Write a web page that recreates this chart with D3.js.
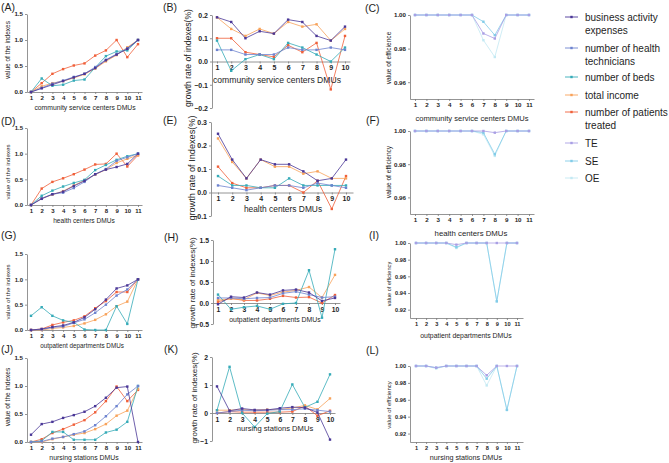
<!DOCTYPE html>
<html>
<head>
<meta charset="utf-8">
<script src="https://cdn.jsdelivr.net/npm/d3@7"></script>
<style>
  body { margin: 0; background: #fff; }
  text { font-family: Arial, "Liberation Sans", Helvetica, sans-serif; }
</style>
</head>
<body>
<div id="container"></div>
<script>
// series: business activity expenses, health technicians, beds, total income, patients treated
const seriesNames = ["business activity expenses", "number of health technicians", "number of beds", "total income", "number of patients treated"];
const seriesColors = ["#4a3797", "#6d83cf", "#35abb8", "#f8a25a", "#f0603a"];
const effNames = ["TE", "SE", "OE"];
const effColors = ["#a99fe4", "#82cce8", "#c3e9f3"];

const valueTicks = [0, 0.5, 1, 1.5];
const communityGrowthTicks = [-0.2, -0.1, 0, 0.1, 0.2];
const healthGrowthTicks = [-0.1, 0, 0.1, 0.2, 0.3];
const outpatientGrowthTicks = [-0.5, 0, 0.5, 1, 1.5];
const nursingGrowthTicks = [-1, 0, 1, 2];
const effTicksWide = [0.96, 0.98, 1.0];
const effTicksNarrow = [0.92, 0.94, 0.96, 0.98, 1.0];

// (A) community service centers
const communityValue = [
  [0, 0.07, 0.14, 0.21, 0.28, 0.35, 0.46, 0.61, 0.72, 0.83, 1.0],
  [0, 0.08, 0.16, 0.22, 0.29, 0.35, 0.48, 0.62, 0.73, 0.84, 1.0],
  [0, 0.26, 0.12, 0.14, 0.22, 0.24, 0.47, 0.69, 0.78, 0.80, 1.0],
  [0, 0.11, 0.17, 0.21, 0.27, 0.34, 0.45, 0.59, 0.71, 0.86, 1.0],
  [0, 0.17, 0.35, 0.44, 0.51, 0.55, 0.70, 0.80, 1.0, 0.67, 0.92]
];
// (B)
const communityGrowth = [
  [0.19, 0.17, 0.10, 0.13, 0.12, 0.18, 0.17, 0.11, 0.09, 0.15],
  [0.05, 0.05, 0.03, 0.03, 0.03, 0.06, 0.05, 0.05, 0.06, 0.05],
  [0.09, -0.04, 0.01, 0.03, 0.01, 0.08, 0.06, 0.03, 0.00, 0.06],
  [0.19, 0.14, 0.11, 0.14, 0.12, 0.17, 0.15, 0.16, 0.09, 0.14],
  [0.10, 0.10, 0.04, 0.03, 0.02, 0.07, 0.04, 0.08, -0.12, 0.11]
];
// (C)
const communityEff = [
  [1, 1, 1, 1, 1, 1, 0.989, 0.986, 1, 1, 1],
  [1, 1, 1, 1, 1, 1, 0.996, 0.988, 1, 1, 1],
  [1, 1, 1, 1, 1, 1, 0.985, 0.975, 1, 1, 1]
];
// (D) health centers
const healthValue = [
  [0, 0.12, 0.21, 0.26, 0.37, 0.47, 0.60, 0.69, 0.74, 0.80, 1.0],
  [0, 0.13, 0.21, 0.24, 0.33, 0.45, 0.60, 0.70, 0.86, 0.93, 1.0],
  [0, 0.18, 0.28, 0.36, 0.43, 0.49, 0.68, 0.78, 0.88, 0.95, 1.0],
  [0, 0.13, 0.20, 0.27, 0.38, 0.48, 0.59, 0.69, 0.82, 0.90, 0.97],
  [0, 0.32, 0.45, 0.52, 0.60, 0.69, 0.79, 0.80, 1.0, 0.75, 0.97]
];
// (E)
const healthGrowth = [
  [0.25, 0.14, 0.06, 0.14, 0.12, 0.12, 0.09, 0.05, 0.06, 0.14],
  [0.03, 0.02, 0.01, 0.02, 0.03, 0.03, 0.02, 0.04, 0.03, 0.02],
  [0.07, 0.03, 0.03, 0.02, 0.02, 0.06, 0.03, 0.03, 0.03, 0.03],
  [0.23, 0.13, 0.06, 0.14, 0.11, 0.11, 0.08, 0.09, 0.06, 0.06],
  [0.11, 0.04, 0.02, 0.02, 0.03, 0.03, 0.00, 0.05, -0.07, 0.07]
];
// (F)
const healthEff = [
  [1, 1, 1, 1, 1, 1, 1, 0.999, 1, 1, 1],
  [1, 1, 1, 1, 1, 1, 0.999, 0.986, 1, 1, 1],
  [1, 1, 1, 1, 1, 1, 0.998, 0.985, 1, 1, 1]
];
// (G) outpatient departments
const outpatientValue = [
  [0, 0.02, 0.06, 0.09, 0.15, 0.25, 0.41, 0.60, 0.82, 0.88, 1.0],
  [0, 0.01, 0.05, 0.07, 0.14, 0.21, 0.34, 0.50, 0.68, 0.80, 1.0],
  [0.28, 0.45, 0.28, 0.19, 0.15, 0.01, 0.0, 0.0, 0.47, 0.12, 1.0],
  [0, 0.0, 0.03, 0.05, 0.08, 0.13, 0.20, 0.31, 0.47, 0.56, 1.0],
  [0, 0.02, 0.10, 0.15, 0.19, 0.27, 0.43, 0.57, 0.75, 0.75, 1.0]
];
// (H)
const outpatientGrowth = [
  [-0.03, 0.15, 0.13, 0.25, 0.20, 0.30, 0.32, 0.25, 0.05, 0.12],
  [0.12, 0.12, 0.10, 0.12, 0.13, 0.23, 0.27, 0.20, 0.13, 0.15],
  [0.20, -0.15, -0.10, -0.07, -0.15, -0.02, 0.0, 0.78, -0.35, 1.28],
  [0.07, 0.10, 0.08, 0.24, 0.18, 0.26, 0.30, 0.38, 0.13, 0.67],
  [0.03, 0.11, 0.06, 0.06, 0.10, 0.17, 0.13, 0.14, 0.0, 0.19]
];
// (I)
const outpatientEff = [
  [1, 1, 1, 1, 0.998, 1, 1, 1, 1, 1, 1],
  [1, 1, 1, 1, 0.995, 1, 1, 1, 0.93, 1, 1],
  [1, 1, 1, 1, 0.994, 1, 1, 1, 0.93, 1, 1]
];
// (J) nursing stations
const nursingValue = [
  [0.13, 0.32, 0.36, 0.43, 0.48, 0.54, 0.64, 0.79, 0.97, 0.99, 0.0],
  [0, 0.01, 0.06, 0.09, 0.14, 0.19, 0.30, 0.46, 0.64, 0.85, 1.0],
  [0, 0.02, 0.18, 0.18, 0.04, 0.04, 0.04, 0.17, 0.22, 0.36, 1.0],
  [0, 0.0, 0.05, 0.09, 0.13, 0.16, 0.23, 0.32, 0.47, 0.56, 0.95],
  [0, 0.05, 0.16, 0.23, 0.31, 0.39, 0.53, 0.73, 0.99, 0.73, 0.93]
];
// (K)
const nursingGrowth = [
  [0.95, 0.08, 0.16, 0.11, 0.11, 0.17, 0.21, 0.19, 0.02, -0.95],
  [0.0, 0.05, 0.10, 0.08, 0.10, 0.12, 0.12, 0.15, 0.10, 0.05],
  [0.10, 1.65, 0.0, -0.50, -0.02, 0.05, 1.02, 0.20, 0.40, 1.38],
  [0.10, 0.10, 0.12, 0.10, 0.12, 0.12, 0.18, 0.27, 0.13, 0.52],
  [0.0, 0.05, 0.03, 0.03, 0.03, 0.03, 0.05, 0.25, -0.10, 0.08]
];
// (L)
const nursingEff = [
  [1, 1, 0.998, 1, 1, 1, 1, 0.989, 1, 1, 1],
  [1, 1, 0.998, 1, 1, 1, 1, 0.985, 1, 0.948, 1],
  [1, 1, 0.997, 1, 1, 1, 1, 0.977, 1, 0.948, 1]
];

const width = 669;
const height = 463;
const textColor = "#1e1e1e";

const svg = d3.select("#container")
  .append("svg")
  .attr("width", width)
  .attr("height", height);

const panels = [
  { letter: "(A)", lx: 1, ly: 11, data: communityValue, colors: seriesColors, growth: false,
    ax: 27, x1: 31, x2: 138, yTop: 14, yBot: 92, domain: [0, 1.5], ticks: valueTicks, fmt: ".1f",
    xTitle: "community service centers DMUs", xt: [85, 110], xfs: 6.8,
    yTitle: "value of the indexes", yt: [10, 50], yfs: 6.5, tfs: 6.2 },
  { letter: "(B)", lx: 163, ly: 11, data: communityGrowth, colors: seriesColors, growth: true,
    ax: 212, x1: 217, x2: 345, yTop: 15, yBot: 108, domain: [-0.2, 0.2], ticks: communityGrowthTicks, fmt: ".1f",
    xTitle: "community service centers DMUs", xt: [277, 83], xfs: 8.6,
    yTitle: "growth rate of indexes(%)", yt: [191, 58], yfs: 8.6, tfs: 7 },
  { letter: "(C)", lx: 365, ly: 12, data: communityEff, colors: effColors, growth: false,
    ax: 410, x1: 415, x2: 529, yTop: 15, yBot: 99, domain: [0.95, 1.0], ticks: effTicksWide, fmt: ".2f",
    xTitle: "community service centers DMUs", xt: [472, 121], xfs: 7.6,
    yTitle: "value of efficience", yt: [391, 58], yfs: 6.6, tfs: 6.2 },

  { letter: "(D)", lx: 1, ly: 125, data: healthValue, colors: seriesColors, growth: false,
    ax: 27, x1: 31, x2: 138, yTop: 128, yBot: 205, domain: [0, 1.5], ticks: valueTicks, fmt: ".1f",
    xTitle: "health centers DMUs", xt: [84, 223], xfs: 6.6,
    yTitle: "value of the indexes", yt: [10, 172], yfs: 6.2, tfs: 6 },
  { letter: "(E)", lx: 163, ly: 124, data: healthGrowth, colors: seriesColors, growth: true,
    ax: 211, x1: 218, x2: 346, yTop: 122, yBot: 216, domain: [-0.1, 0.3], ticks: healthGrowthTicks, fmt: ".1f",
    xTitle: "health centers DMUs", xt: [283, 212], xfs: 8.4,
    yTitle: "growth rate of Indexes(%)", yt: [195, 168], yfs: 9.2, tfs: 7 },
  { letter: "(F)", lx: 366, ly: 124, data: healthEff, colors: effColors, growth: false,
    ax: 410, x1: 415, x2: 529, yTop: 131, yBot: 214, domain: [0.95, 1.0], ticks: effTicksWide, fmt: ".2f",
    xTitle: "health centers DMUs", xt: [471, 236], xfs: 7.8,
    yTitle: "value of efficiency", yt: [391, 172], yfs: 6.6, tfs: 6.2 },

  { letter: "(G)", lx: 1, ly: 239, data: outpatientValue, colors: seriesColors, growth: false,
    ax: 27, x1: 31, x2: 138, yTop: 254, yBot: 330, domain: [0, 1.5], ticks: valueTicks, fmt: ".1f",
    xTitle: "outpatient departments DMUs", xt: [82, 348], xfs: 6.3,
    yTitle: "value of the indexes", yt: [10, 292], yfs: 6.2, tfs: 6 },
  { letter: "(H)", lx: 164, ly: 241, data: outpatientGrowth, colors: seriesColors, growth: true,
    ax: 213, x1: 218, x2: 335, yTop: 240, yBot: 324, domain: [-0.5, 1.5], ticks: outpatientGrowthTicks, fmt: ".1f",
    xTitle: "outpatient departments DMUs", xt: [275, 322], xfs: 6.9,
    yTitle: "growth rate of indexes(%)", yt: [195, 283], yfs: 8, tfs: 6.8 },
  { letter: "(I)", lx: 369, ly: 239, data: outpatientEff, colors: effColors, growth: false,
    ax: 410, x1: 416, x2: 517, yTop: 243, yBot: 318, domain: [0.91, 1.0], ticks: effTicksNarrow, fmt: ".2f",
    xTitle: "outpatient departments DMUs", xt: [466, 338], xfs: 6.9,
    yTitle: "value of efficiency", yt: [391, 284], yfs: 5.6, tfs: 5.6 },

  { letter: "(J)", lx: 1, ly: 353, data: nursingValue, colors: seriesColors, growth: false,
    ax: 27, x1: 31, x2: 138, yTop: 358, yBot: 442, domain: [0, 1.5], ticks: valueTicks, fmt: ".1f",
    xTitle: "nursing stations DMUs", xt: [84, 460], xfs: 6.9,
    yTitle: "value of the indexes", yt: [10, 397], yfs: 6.6, tfs: 6.2 },
  { letter: "(K)", lx: 164, ly: 353, data: nursingGrowth, colors: seriesColors, growth: true,
    ax: 212, x1: 217, x2: 330, yTop: 357, yBot: 441, domain: [-1, 2], ticks: nursingGrowthTicks, fmt: "d",
    xTitle: "nursing stations DMUs", xt: [275, 431], xfs: 7.6,
    yTitle: "growth rate of indexes(%)", yt: [197, 398], yfs: 8, tfs: 6.8 },
  { letter: "(L)", lx: 366, ly: 354, data: nursingEff, colors: effColors, growth: false,
    ax: 410, x1: 416, x2: 517, yTop: 366, yBot: 442, domain: [0.91, 1.0], ticks: effTicksNarrow, fmt: ".2f",
    xTitle: "nursing stations DMUs", xt: [466, 460], xfs: 7.2,
    yTitle: "value of efficiency", yt: [391, 405], yfs: 6, tfs: 5.6 }
];

function drawPanel(p) {
  const n = p.data[0].length;
  const step = (p.x2 - p.x1) / (n - 1);
  const pad = (p.x1 - p.ax) / step;

  const x = d3.scaleLinear()
    .domain([1 - pad, n + pad])
    .range([p.ax, p.x2 + (p.x1 - p.ax)]);

  const y = d3.scaleLinear()
    .domain(p.domain)
    .range([p.yBot, p.yTop]);

  const g = svg.append("g");
  const xAxisY = p.growth ? y(0) : p.yBot;

  g.append("g")
    .attr("transform", `translate(0,${xAxisY})`)
    .call(d3.axisBottom(x).tickValues(d3.range(1, n + 1)).tickFormat(d3.format("d"))
      .tickSize(2).tickSizeOuter(0).tickPadding(2));

  g.append("g")
    .attr("transform", `translate(${p.ax},0)`)
    .call(d3.axisLeft(y).tickValues(p.ticks).tickFormat(d3.format(p.fmt))
      .tickSize(2).tickSizeOuter(0).tickPadding(2));

  g.selectAll(".domain, .tick line")
    .attr("stroke", "#7a7a7a")
    .attr("stroke-width", 0.8);

  g.selectAll(".tick text")
    .attr("font-family", "Arial, 'Liberation Sans', sans-serif")
    .attr("font-size", p.tfs)
    .attr("font-weight", "bold")
    .attr("fill", textColor);

  const line = d3.line()
    .x((d, i) => x(i + 1))
    .y(d => y(d));

  // draw last series first so the first legend entry sits on top
  for (let s = p.data.length - 1; s >= 0; s--) {
    const vals = p.data[s];
    g.append("path")
      .datum(vals)
      .attr("fill", "none")
      .attr("stroke", p.colors[s])
      .attr("stroke-width", 0.8)
      .attr("d", line);

    g.selectAll(null)
      .data(vals)
      .enter()
      .append("rect")
      .attr("x", (d, i) => x(i + 1) - 1.2)
      .attr("y", d => y(d) - 1.2)
      .attr("width", 2.4)
      .attr("height", 2.4)
      .attr("fill", p.colors[s]);
  }

  const labels = svg.append("g").attr("fill", textColor);

  labels.append("text")
    .attr("x", p.lx)
    .attr("y", p.ly)
    .style("font-size", "10.5px")
    .text(p.letter);

  labels.append("text")
    .attr("x", p.xt[0])
    .attr("y", p.xt[1])
    .attr("text-anchor", "middle")
    .style("font-size", p.xfs + "px")
    .text(p.xTitle);

  labels.append("text")
    .attr("transform", `translate(${p.yt[0]},${p.yt[1]}) rotate(-90)`)
    .attr("text-anchor", "middle")
    .style("font-size", p.yfs + "px")
    .text(p.yTitle);
}

panels.forEach(drawPanel);

// Legend
const legendItems = [
  { lines: ["business activity", "expenses"], color: seriesColors[0], y: 17 },
  { lines: ["number of health", "technicians"], color: seriesColors[1], y: 48 },
  { lines: ["number of beds"], color: seriesColors[2], y: 77 },
  { lines: ["total income"], color: seriesColors[3], y: 95 },
  { lines: ["number of patients", "treated"], color: seriesColors[4], y: 112 },
  { lines: ["TE"], color: effColors[0], y: 143 },
  { lines: ["SE"], color: effColors[1], y: 161 },
  { lines: ["OE"], color: effColors[2], y: 178 }
];

const legend = svg.append("g");

legendItems.forEach(item => {
  legend.append("line")
    .attr("x1", 565)
    .attr("x2", 578)
    .attr("y1", item.y)
    .attr("y2", item.y)
    .attr("stroke", item.color)
    .attr("stroke-width", 0.9);

  legend.append("rect")
    .attr("x", 570.3)
    .attr("y", item.y - 1.2)
    .attr("width", 2.4)
    .attr("height", 2.4)
    .attr("fill", item.color);

  item.lines.forEach((t, i) => {
    legend.append("text")
      .attr("x", 585)
      .attr("y", item.y + 3.5 + i * 13.5)
      .style("font-size", "10px")
      .attr("fill", textColor)
      .text(t);
  });
});
</script>
</body>
</html>
